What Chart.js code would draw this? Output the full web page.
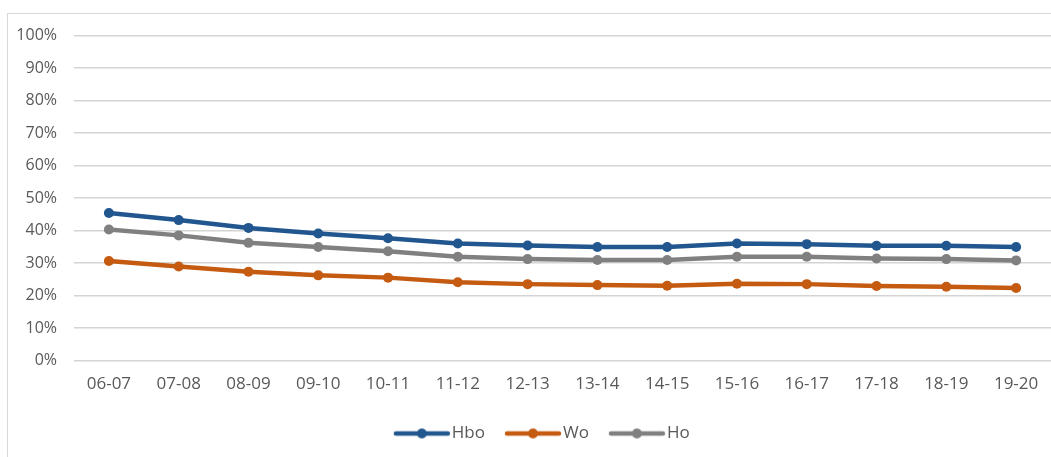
<!DOCTYPE html>
<html>
<head>
<meta charset="utf-8">
<script src="https://cdn.jsdelivr.net/npm/chart.js@4/dist/chart.umd.min.js"></script>
<style>
  html, body { margin: 0; padding: 0; background: #fff; overflow: hidden; width: 1051px; height: 457px; }
  #frame { position: absolute; left: 7px; top: 13px; width: 1100px; height: 500px; border-left: 1px solid #d9d9d9; border-top: 1px solid #d9d9d9; }
  #wrap { position: absolute; left: 0; top: 0; width: 1056px; height: 457px; }
</style>
</head>
<body>
<div id="frame"></div>
<div id="wrap"><canvas id="c" width="1056" height="457"></canvas></div>
<script>
const categories = ['06-07','07-08','08-09','09-10','10-11','11-12','12-13','13-14','14-15','15-16','16-17','17-18','18-19','19-20'];
const hbo = [45.4, 43.2, 40.8, 39.1, 37.6, 36.0, 35.4, 34.9, 34.9, 36.0, 35.8, 35.3, 35.3, 34.9];
const wo  = [30.6, 28.9, 27.3, 26.2, 25.5, 24.1, 23.5, 23.2, 23.0, 23.6, 23.5, 22.9, 22.7, 22.3];
const ho  = [40.3, 38.5, 36.2, 34.9, 33.6, 31.9, 31.2, 30.9, 30.9, 31.9, 31.9, 31.4, 31.2, 30.8];
const yTicks = [0,10,20,30,40,50,60,70,80,90,100];
const seriesNames = ['Hbo','Wo','Ho'];
const seriesColors = ['#22568f','#c55a11','#808080'];

// legend icon: line with a dot, offset so it sits just before the label text
function legendIcon(color) {
  const cv = document.createElement('canvas');
  cv.width = 70; cv.height = 12;
  const g = cv.getContext('2d');
  g.strokeStyle = color; g.lineWidth = 4.5; g.lineCap = 'round';
  g.beginPath(); g.moveTo(14, 6); g.lineTo(66, 6); g.stroke();
  g.fillStyle = color; g.beginPath(); g.arc(40, 6, 5, 0, Math.PI*2); g.fill();
  return cv;
}
const icons = seriesColors.map(legendIcon);

const fam = "'Open Sans', sans-serif";
const textColor = '#595959';

const datasets = [hbo, wo, ho].map((vals, i) => ({
  label: seriesNames[i],
  data: vals,
  borderColor: seriesColors[i],
  backgroundColor: seriesColors[i],
  borderWidth: 4.5,
  pointRadius: 5,
  pointBorderWidth: 0,
  pointBackgroundColor: seriesColors[i],
  borderCapStyle: 'round',
  borderJoinStyle: 'round',
  tension: 0
}));

// shift legend box so it is centred like the original (centre ~540px)
const legendShift = {
  id: 'legendShift',
  afterLayout(chart) { if (chart.legend) { chart.legend.left = 24; } }
};

new Chart(document.getElementById('c'), {
  type: 'line',
  data: { labels: categories, datasets },
  plugins: [legendShift],
  options: {
    responsive: false,
    animation: false,
    layout: { padding: { top: 35.5, left: 0, right: 0, bottom: 5 } },
    plugins: {
      tooltip: { enabled: false },
      legend: {
        position: 'bottom',
        labels: {
          usePointStyle: true,
          pointStyleWidth: 53,
          padding: 16.5,
          color: textColor,
          font: { family: fam, size: 17 },
          generateLabels(chart) {
            const items = Chart.defaults.plugins.legend.labels.generateLabels(chart);
            items.forEach((it, i) => { it.pointStyle = icons[i]; });
            return items;
          }
        }
      }
    },
    scales: {
      x: {
        offset: true,
        grid: { display: false, drawTicks: false },
        border: { display: false },
        ticks: { color: textColor, font: { family: fam, size: 17 }, padding: 13, maxRotation: 0 },
        afterFit(s) { s.height = 48; }
      },
      y: {
        min: 0, max: 100,
        afterBuildTicks(s) { s.ticks = yTicks.map(v => ({ value: v })); },
        grid: { color: '#d4d4d4', lineWidth: 1.4, drawTicks: false },
        border: { display: false },
        ticks: { color: textColor, font: { family: fam, size: 16 }, padding: 17, callback: v => v + '%' },
        afterFit(s) { s.width = 74; }
      }
    }
  }
});
</script>
</body>
</html>
